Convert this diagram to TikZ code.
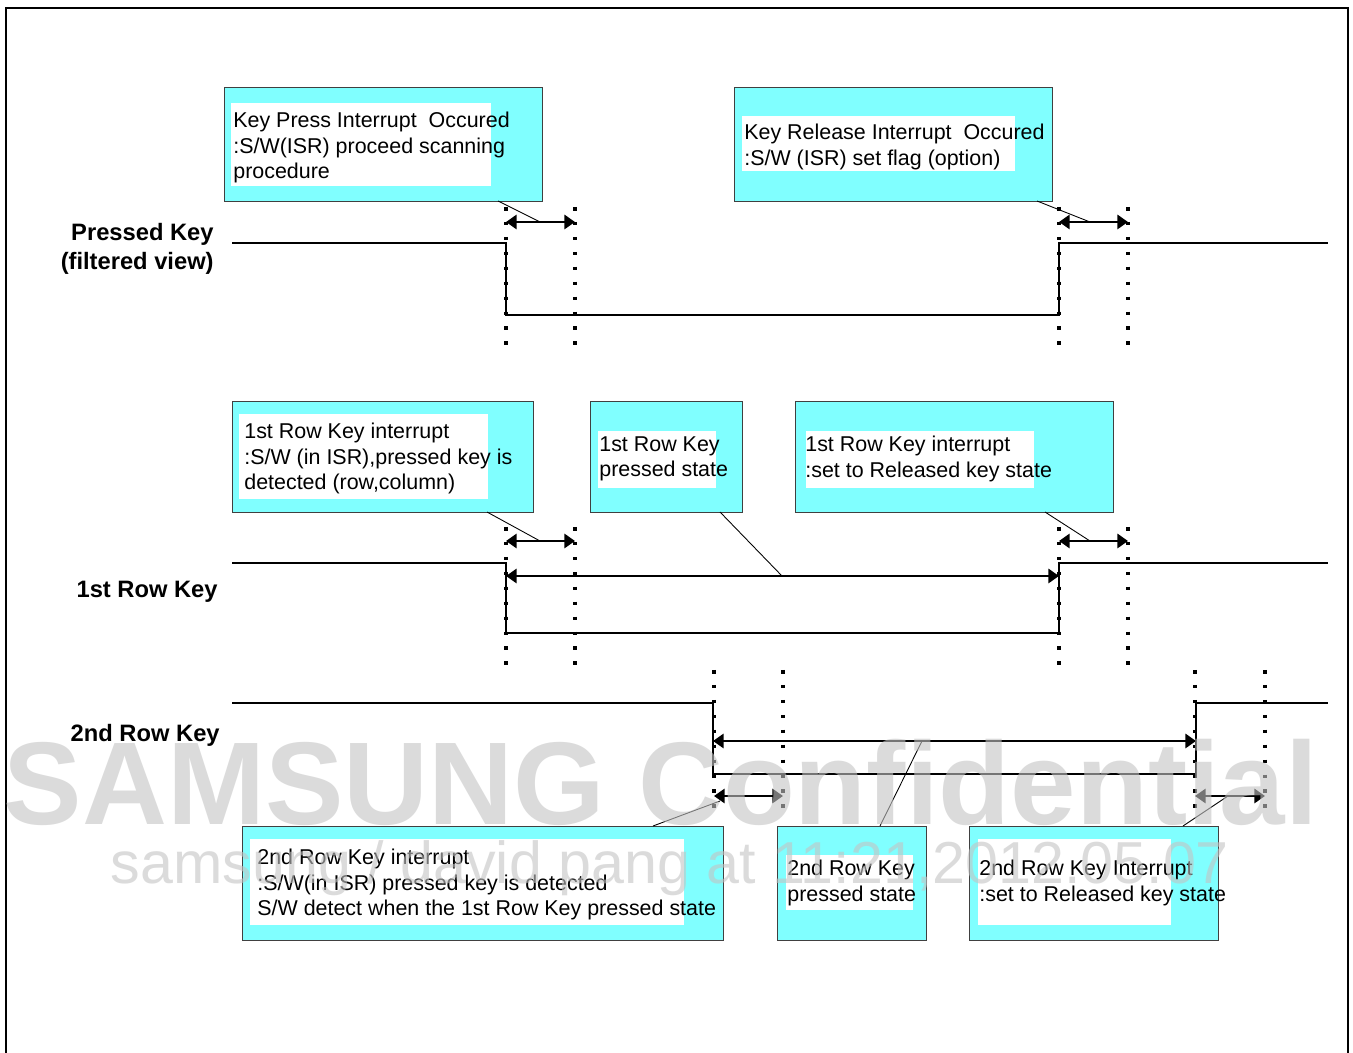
\documentclass[tikz,border=0pt]{standalone}
\usepackage{fontspec}
\setmainfont{Liberation Sans}
\usetikzlibrary{arrows.meta}
\definecolor{boxcyan}{HTML}{80FFFF}
\definecolor{wmgray}{HTML}{C4C4C4}
\tikzset{
  sig/.style={line width=1.5pt},
  dots/.style={line width=2pt, dash pattern=on 2pt off 6.5pt},
  dimarr/.style={line width=1.5pt, {Triangle[length=6pt,width=8pt]}-{Triangle[length=6pt,width=8pt]}},
  lead/.style={line width=0.5pt},
  cbox/.style={draw=black!75, fill=boxcyan, inner sep=0pt, anchor=north west, line width=0.6pt},
  boxtxt/.style={font=\fontsize{12.2}{14.4}\selectfont, align=left, anchor=north west, inner sep=0pt},
  lbl/.style={font=\bfseries\fontsize{13.5}{16.4}\selectfont, align=right, inner sep=0pt},
}
\begin{document}
\begin{tikzpicture}[x=0.02cm, y=-0.02cm]
\useasboundingbox (0,0) rectangle (1353,1053);
\fill[white] (0,0) rectangle (1353,1053);
\draw[line width=1.5pt] (6,1060) -- (6,8) -- (1348,8) -- (1348,1060);

% signal labels:
\node[lbl, anchor=north east] (lpk) at (214,223) {Pressed Key\\(filtered view)};
\node[lbl, anchor=base east] (lr1) at (218,598) {1st Row Key};
\node[lbl, anchor=base east] (lr2) at (220,742) {2nd Row Key};

% pressed key (filtered view):
\draw[sig] (232,243) -- (506,243) -- (506,315) -- (1059,315) -- (1059,243) -- (1328,243);
\draw[dots] (506,207) -- (506,345);
\draw[dots] (575,207) -- (575,345);
\draw[dots] (1059,207) -- (1059,345);
\draw[dots] (1128,207) -- (1128,345);
\coordinate (pa) at (506,222);
\coordinate (pb) at (575,222);
\coordinate (pc) at (1059,222);
\coordinate (pd) at (1128,222);
\draw[dimarr] (pa) -- (pb);
\draw[dimarr] (pc) -- (pd);

% 1st row key:
\draw[sig] (232,563) -- (506,563) -- (506,633) -- (1059,633) -- (1059,563) -- (1328,563);
\draw[dots] (506,527) -- (506,665);
\draw[dots] (575,527) -- (575,665);
\draw[dots] (1059,527) -- (1059,665);
\draw[dots] (1128,527) -- (1128,665);
\coordinate (ra) at (506,541);
\coordinate (rb) at (575,541);
\coordinate (rc) at (1059,541);
\coordinate (rd) at (1128,541);
\coordinate (re) at (506,576);
\coordinate (rf) at (1059,576);
\draw[dimarr] (ra) -- (rb);
\draw[dimarr] (rc) -- (rd);
\draw[dimarr] (re) -- (rf);

% 2nd row key:
\draw[sig] (232,703) -- (713,703) -- (713,774) -- (1196,774) -- (1196,703) -- (1328,703);
\draw[dots] (714,670) -- (714,808);
\draw[dots] (783,670) -- (783,808);
\draw[dots] (1195,670) -- (1195,808);
\draw[dots] (1265,670) -- (1265,808);
\coordinate (sa) at (714,796);
\coordinate (sb) at (783,796);
\coordinate (sc) at (1195,796);
\coordinate (sd) at (1265,796);
\coordinate (se) at (713,741);
\coordinate (sf) at (1196,741);
\draw[dimarr] (sa) -- (sb);
\draw[dimarr] (sc) -- (sd);
\draw[dimarr] (se) -- (sf);

% boxes, upper row:
\node[cbox, minimum width=6.36cm, minimum height=2.28cm] (kpress) at (224,87) {};
\fill[white] (231,103) rectangle (491,186);
\node[boxtxt] (tpress) at (233,112) {Key Press Interrupt\ \ Occured\\:S/W(ISR) proceed scanning\\procedure};
\node[cbox, minimum width=6.36cm, minimum height=2.28cm] (krel) at (734,87) {};
\fill[white] (742,116) rectangle (1015,171);
\node[boxtxt] (trel) at (744,124) {Key Release Interrupt\ \ Occured\\:S/W (ISR) set flag (option)};

% boxes, middle row:
\node[cbox, minimum width=6.02cm, minimum height=2.22cm] (r1int) at (232,401) {};
\fill[white] (239,414) rectangle (488,499);
\node[boxtxt] (tr1int) at (244,423) {1st Row Key interrupt\\:S/W (in ISR),pressed key is\\detected (row,column)};
\node[cbox, minimum width=3.04cm, minimum height=2.22cm] (r1st) at (590,401) {};
\fill[white] (598,431) rectangle (716,488);
\node[boxtxt] (tr1st) at (599,436) {1st Row Key\\pressed state};
\node[cbox, minimum width=6.36cm, minimum height=2.22cm] (r1rel) at (795,401) {};
\fill[white] (806,431) rectangle (1034,488);
\node[boxtxt] (tr1rel) at (805,436) {1st Row Key interrupt\\:set to Released key state};

% boxes, lower row:
\node[cbox, minimum width=9.62cm, minimum height=2.28cm] (r2int) at (242,826) {};
\fill[white] (250,839) rectangle (684,925);
\node[boxtxt] (tr2int) at (257,849) {2nd Row Key interrupt\\:S/W(in ISR) pressed key is detected\\S/W detect when the 1st Row Key pressed state};
\node[cbox, minimum width=2.98cm, minimum height=2.28cm] (r2st) at (777,826) {};
\fill[white] (786,855) rectangle (913,910);
\node[boxtxt] (tr2st) at (787,860) {2nd Row Key\\pressed state};
\node[cbox, minimum width=4.98cm, minimum height=2.28cm] (r2rel) at (969,826) {};
\fill[white] (978,839) rectangle (1171,925);
\node[boxtxt] (tr2rel) at (979,860) {2nd Row Key Interrupt\\:set to Released key state};

% leader lines:
\coordinate (lkp) at (498,201);
\coordinate (lkr) at (1037,201);
\coordinate (l1i) at (487,512);
\coordinate (l1s) at (720,512);
\coordinate (l1r) at (1045,512);
\coordinate (l2i) at (653,826);
\coordinate (l2s) at (880,826);
\coordinate (l2r) at (1183,826);
\draw[lead] (lkp) -- (540,222);
\draw[lead] (lkr) -- (1090,222);
\draw[lead] (l1i) -- (540,541);
\draw[lead] (l1s) -- (782,576);
\draw[lead] (l1r) -- (1090,541);
\draw[lead] (l2i) -- (720,801);
\draw[lead] (l2s) -- (922,741);
\draw[lead] (l2r) -- (1228,796);

% watermark:
\node[font=\bfseries\fontsize{67}{70}\selectfont, text=wmgray, opacity=0.6, anchor=base, inner sep=0pt] (wm1) at (661,825) {SAMSUNG Confidential};
\node[font=\fontsize{33.7}{36}\selectfont, text=wmgray, opacity=0.6, anchor=base, inner sep=0pt] (wm2) at (670,884) {samsung / david pang at 11:21,2012.05.07};
\end{tikzpicture}
\end{document}
